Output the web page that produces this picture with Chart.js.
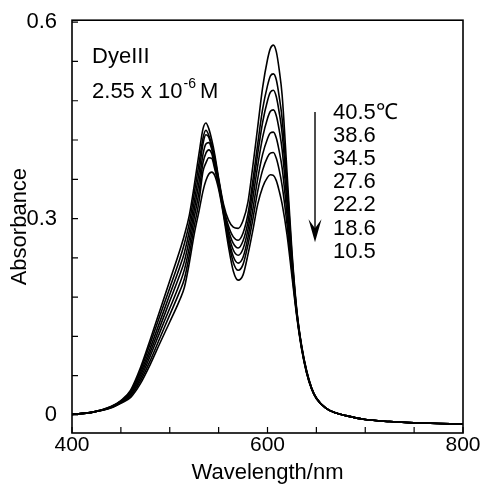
<!DOCTYPE html>
<html><head><meta charset="utf-8">
<script src="https://cdn.jsdelivr.net/npm/chart.js@4/dist/chart.umd.min.js"></script>
<style>html,body{margin:0;padding:0;background:#fff}</style>
</head><body>
<canvas id="c" width="485" height="484"></canvas>
<script>
// ---- data ----
const wavelengths = [400,420,440,450,460,470,480,490,500,510,
  515,520,525,530,534,537,540,543,546,550,
  555,560,565,570,575,580,585,590,595,600,
  603,606,609,612,615,620,625,630,635,640,
  645,650,660,670,680,700,725,750,775,800];

const abs405 = [0.001,0.004,0.013,0.022,0.038,0.072,0.115,0.160,0.205,0.250,
  0.275,0.305,0.350,0.400,0.437,0.446,0.437,0.420,0.398,0.362,
  0.322,0.298,0.287,0.285,0.297,0.325,0.380,0.440,0.500,0.543,
  0.560,0.565,0.555,0.527,0.488,0.370,0.250,0.160,0.105,0.068,
  0.042,0.026,0.010,0.003,-0.001,-0.007,-0.010,-0.012,-0.013,-0.014];
const abs386 = [0.001,0.004,0.013,0.021,0.036,0.068,0.109,0.152,0.194,0.237,
  0.262,0.293,0.338,0.385,0.423,0.435,0.427,0.413,0.393,0.359,
  0.318,0.289,0.272,0.267,0.278,0.307,0.358,0.414,0.467,0.503,
  0.518,0.521,0.512,0.486,0.452,0.354,0.244,0.158,0.104,0.067,
  0.042,0.026,0.010,0.003,-0.001,-0.007,-0.010,-0.012,-0.013,-0.014];
const abs345 = [0.001,0.004,0.012,0.021,0.034,0.064,0.102,0.143,0.184,0.225,
  0.248,0.281,0.325,0.371,0.414,0.428,0.424,0.408,0.390,0.358,
  0.316,0.283,0.262,0.255,0.266,0.295,0.346,0.399,0.447,0.480,
  0.493,0.496,0.486,0.462,0.430,0.339,0.238,0.157,0.103,0.067,
  0.041,0.026,0.010,0.003,-0.001,-0.007,-0.010,-0.012,-0.013,-0.014];
const abs276 = [0.001,0.004,0.012,0.020,0.033,0.060,0.096,0.135,0.174,0.213,
  0.235,0.269,0.313,0.356,0.398,0.414,0.416,0.406,0.386,0.355,
  0.313,0.277,0.252,0.244,0.254,0.283,0.331,0.381,0.424,0.453,
  0.464,0.466,0.457,0.435,0.405,0.323,0.231,0.155,0.102,0.066,
  0.041,0.025,0.010,0.003,-0.001,-0.007,-0.010,-0.012,-0.013,-0.014];
const abs222 = [0.001,0.004,0.012,0.019,0.031,0.056,0.090,0.127,0.163,0.200,
  0.222,0.256,0.301,0.341,0.385,0.400,0.405,0.399,0.380,0.353,
  0.311,0.271,0.242,0.232,0.241,0.271,0.314,0.361,0.398,0.422,
  0.431,0.432,0.423,0.403,0.377,0.306,0.225,0.153,0.102,0.065,
  0.041,0.025,0.010,0.003,-0.001,-0.007,-0.010,-0.012,-0.013,-0.014];
const abs186 = [0.001,0.004,0.011,0.019,0.029,0.052,0.083,0.118,0.153,0.188,
  0.208,0.244,0.288,0.327,0.372,0.385,0.393,0.392,0.376,0.350,
  0.308,0.266,0.233,0.221,0.230,0.260,0.299,0.342,0.374,0.394,
  0.400,0.401,0.392,0.374,0.350,0.291,0.219,0.152,0.101,0.065,
  0.040,0.025,0.010,0.003,-0.001,-0.007,-0.010,-0.012,-0.013,-0.014];
const abs105 = [0.001,0.004,0.011,0.018,0.027,0.048,0.077,0.110,0.142,0.175,
  0.195,0.232,0.276,0.312,0.342,0.358,0.368,0.371,0.366,0.345,
  0.305,0.258,0.220,0.206,0.214,0.245,0.282,0.322,0.348,0.363,
  0.367,0.366,0.358,0.342,0.322,0.275,0.212,0.150,0.100,0.064,
  0.040,0.025,0.010,0.003,-0.001,-0.007,-0.010,-0.012,-0.013,-0.014];

const seriesList = [abs405, abs386, abs345, abs276, abs222, abs186, abs105];
const tempLabels = ['40.5℃', '38.6', '34.5', '27.6', '22.2', '18.6', '10.5'];

const xTickValues = [400,450,500,550,600,650,700,750,800];
const xLabelValues = [400,600,800];
const yTickValues = [0,0.06,0.12,0.18,0.24,0.3,0.36,0.42,0.48,0.54,0.6];
const yLabelValues = [0,0.3,0.6];

const FONT = '"Liberation Sans", Arial, Helvetica, sans-serif';

const datasets = seriesList.map((s, k) => ({
  label: tempLabels[k],
  data: wavelengths.map((w, i) => ({x: w, y: s[i]})),
  borderColor: '#000',
  borderWidth: 1.6,
  pointRadius: 0,
  fill: false,
  cubicInterpolationMode: 'monotone'
}));

const decorPlugin = {
  id: 'decor',
  afterDraw(chart) {
    const {ctx, chartArea: a, scales: {x, y}} = chart;
    ctx.save();
    ctx.strokeStyle = '#000';
    ctx.fillStyle = '#000';
    // frame
    ctx.lineWidth = 1.6;
    ctx.strokeRect(a.left, a.top, a.right - a.left, a.bottom - a.top);
    // inward ticks
    ctx.lineWidth = 1.2;
    ctx.beginPath();
    x.ticks.forEach(t => { const px = x.getPixelForValue(t.value); ctx.moveTo(px, a.bottom); ctx.lineTo(px, a.bottom - 6); });
    y.ticks.forEach(t => { const py = y.getPixelForValue(t.value); ctx.moveTo(a.left, py); ctx.lineTo(a.left + 6, py); });
    ctx.stroke();

    // sample annotation
    ctx.textBaseline = 'alphabetic';
    ctx.textAlign = 'left';
    ctx.font = '22px ' + FONT;
    const ax = x.getPixelForValue(420.5);
    ctx.fillText('DyeIII', ax, y.getPixelForValue(0.537));
    const by = y.getPixelForValue(0.484);
    const part1 = '2.55 x 10';
    ctx.fillText(part1, ax, by);
    let w1 = ctx.measureText(part1).width;
    ctx.font = '14px ' + FONT;
    ctx.fillText('-6', ax + w1 + 1, by - 10);
    let w2 = ctx.measureText('-6').width;
    ctx.font = '22px ' + FONT;
    ctx.fillText('M', ax + w1 + w2 + 5, by);

    // temperature list
    ctx.font = '22px ' + FONT;
    ctx.textBaseline = 'middle';
    const tx = x.getPixelForValue(667);
    const ty0 = y.getPixelForValue(0.462);
    tempLabels.forEach((s, i) => ctx.fillText(s, tx, ty0 + i * 23.2));

    // arrow
    const arx = x.getPixelForValue(648.6);
    const ar0 = y.getPixelForValue(0.4626);
    const ar1 = y.getPixelForValue(0.264);
    ctx.lineWidth = 1.4;
    ctx.beginPath();
    ctx.moveTo(arx, ar0);
    ctx.lineTo(arx, ar1 - 10);
    ctx.stroke();
    ctx.beginPath();
    ctx.moveTo(arx, ar1);
    ctx.lineTo(arx - 6.5, ar1 - 23);
    ctx.lineTo(arx, ar1 - 14);
    ctx.lineTo(arx + 6.5, ar1 - 23);
    ctx.closePath();
    ctx.fill();
    ctx.restore();
  }
};

new Chart(document.getElementById('c').getContext('2d'), {
  type: 'line',
  data: {datasets},
  options: {
    responsive: false,
    animation: false,
    events: [],
    layout: {padding: {left: 0, right: 22, top: 20, bottom: 0}},
    plugins: {legend: {display: false}, tooltip: {enabled: false}},
    scales: {
      x: {
        type: 'linear', min: 400, max: 800,
        afterBuildTicks: s => { s.ticks = xTickValues.map(v => ({value: v})); },
        afterFit: s => { s.height = 51; },
        grid: {display: false}, border: {display: false},
        ticks: {autoSkip: false, maxRotation: 0, padding: -8, color: '#000',
          font: {family: FONT, size: 21},
          callback: v => xLabelValues.includes(v) ? String(v) : ''},
        title: {display: true, text: 'Wavelength/nm', color: '#000',
          font: {family: FONT, size: 22}, padding: {top: 0, bottom: -2}}
      },
      y: {
        type: 'linear', min: -0.0275, max: 0.603,
        afterBuildTicks: s => { s.ticks = yTickValues.map(v => ({value: v})); },
        afterFit: s => { s.width = 72; },
        grid: {display: false}, border: {display: false},
        ticks: {autoSkip: false, padding: 7, color: '#000',
          font: {family: FONT, size: 22},
          callback: v => { const m = yLabelValues.find(l => Math.abs(l - v) < 1e-9); return m === undefined ? '' : String(m); }},
        title: {display: true, text: 'Absorbance', color: '#000',
          font: {family: FONT, size: 22}, padding: {top: 7, bottom: 0}}
      }
    }
  },
  plugins: [decorPlugin]
});
</script>
</body></html>
